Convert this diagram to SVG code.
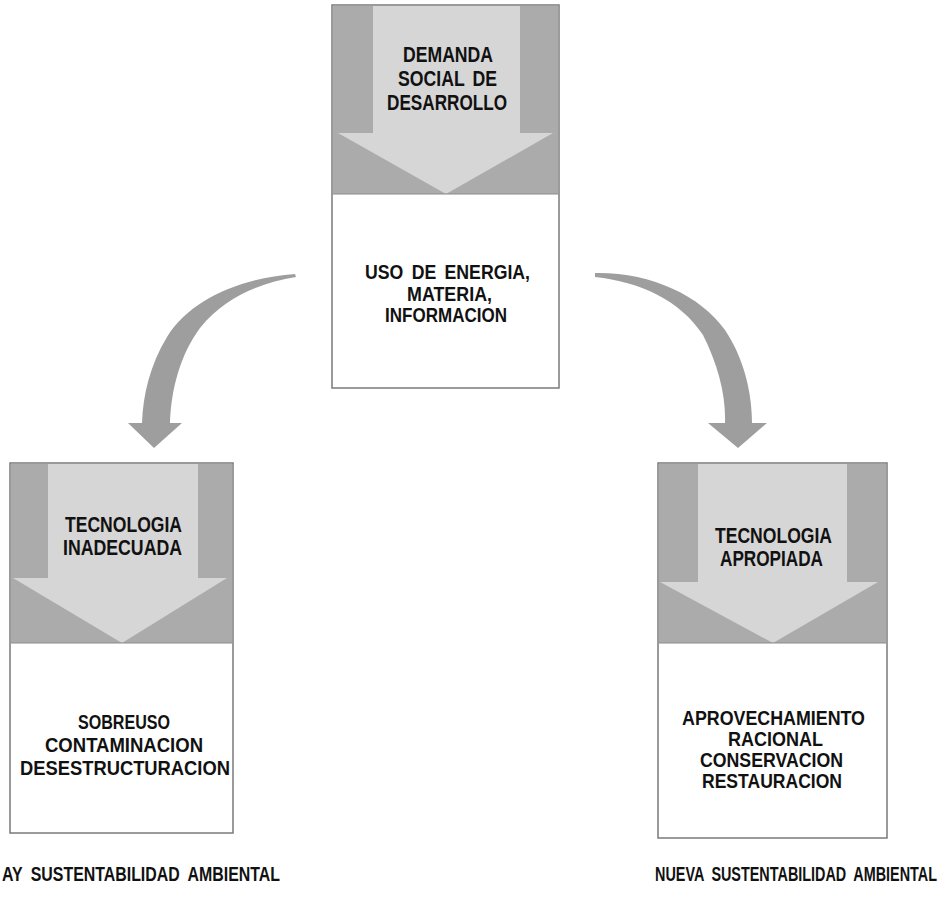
<svg xmlns="http://www.w3.org/2000/svg" width="949" height="900" viewBox="0 0 949 900">
<style>
.bg{fill:#ffffff}
.box{fill:#ffffff;stroke:#7a7a7a;stroke-width:1.5}
.dark{fill:#ababab}
.light{fill:#d6d6d6}
.curve{fill:#9e9e9e}
text{font-family:"Liberation Sans",Arial,sans-serif;font-weight:bold;font-size:22px;fill:#111;text-anchor:middle;word-spacing:4px}
.tight{font-size:20.5px}
.foot{font-size:20px;text-anchor:start;word-spacing:5px}
</style>
<rect class="bg" x="0" y="0" width="949" height="900"/>

<g id="node-demanda">
<rect class="box" x="332" y="5" width="227" height="383"/>
<rect class="dark" x="333" y="6" width="225" height="188"/>
<polygon class="light" points="373,6 520,6 520,133 553,133 446,194 338,133 373,133"/>
<line x1="333" y1="194" x2="558" y2="194" stroke="#8a8a8a" stroke-width="1"/>
<text x="448" y="61.5" textLength="90" lengthAdjust="spacingAndGlyphs">DEMANDA</text>
<text x="447.5" y="85.5" textLength="99" lengthAdjust="spacingAndGlyphs">SOCIAL DE</text>
<text x="447" y="110" textLength="120" lengthAdjust="spacingAndGlyphs">DESARROLLO</text>
<text class="tight" x="447.5" y="279" textLength="165" lengthAdjust="spacingAndGlyphs">USO DE ENERGIA,</text>
<text class="tight" x="449.5" y="301" textLength="85" lengthAdjust="spacingAndGlyphs">MATERIA,</text>
<text class="tight" x="446" y="322" textLength="122" lengthAdjust="spacingAndGlyphs">INFORMACION</text>
</g>

<g id="node-inadecuada">
<rect class="box" x="10" y="463" width="223" height="370"/>
<rect class="dark" x="11" y="464" width="221" height="179"/>
<polygon class="light" points="48,464 198,464 198,578 227,578 122,643 13,578 48,578"/>
<line x1="11" y1="643" x2="232" y2="643" stroke="#8a8a8a" stroke-width="1"/>
<text x="123.5" y="532" textLength="117" lengthAdjust="spacingAndGlyphs">TECNOLOGIA</text>
<text x="122.5" y="555" textLength="119" lengthAdjust="spacingAndGlyphs">INADECUADA</text>
<text class="tight" x="124" y="729" textLength="92" lengthAdjust="spacingAndGlyphs">SOBREUSO</text>
<text class="tight" x="124" y="752" textLength="158" lengthAdjust="spacingAndGlyphs">CONTAMINACION</text>
<text class="tight" x="125" y="775" textLength="210" lengthAdjust="spacingAndGlyphs">DESESTRUCTURACION</text>
</g>

<g id="node-apropiada">
<rect class="box" x="658" y="463" width="229" height="375"/>
<rect class="dark" x="659" y="464" width="227" height="179"/>
<polygon class="light" points="698,464 847,464 847,582 878,582 773,643 660,582 698,582"/>
<line x1="659" y1="643" x2="886" y2="643" stroke="#8a8a8a" stroke-width="1"/>
<text x="773.5" y="542.5" textLength="117" lengthAdjust="spacingAndGlyphs">TECNOLOGIA</text>
<text x="771.5" y="566" textLength="103" lengthAdjust="spacingAndGlyphs">APROPIADA</text>
<text class="tight" x="773.5" y="725" textLength="183" lengthAdjust="spacingAndGlyphs">APROVECHAMIENTO</text>
<text class="tight" x="775.5" y="746" textLength="95" lengthAdjust="spacingAndGlyphs">RACIONAL</text>
<text class="tight" x="771.5" y="767" textLength="143" lengthAdjust="spacingAndGlyphs">CONSERVACION</text>
<text class="tight" x="772" y="788" textLength="140" lengthAdjust="spacingAndGlyphs">RESTAURACION</text>
</g>

<g id="connectors">
<path class="curve" d="M295,274 C240,278 190,300 167,337 C150,365 143,395 142,423 L128,423 L154,448 L182,423 L170,423 C171,390 180,355 200,328 C225,297 260,283 296,277 Z"/>
<path class="curve" d="M595,273 C650,272 700,295 725,330 C745,360 752,395 752,423 L767,423 L738,448 L708,423 L725,423 C726,395 718,365 703,335 C680,300 640,282 595,277 Z"/>
</g>

<g id="labels">
<text class="foot" x="2" y="881" textLength="278" lengthAdjust="spacingAndGlyphs">AY SUSTENTABILIDAD AMBIENTAL</text>
<text class="foot" x="655" y="881" textLength="282" lengthAdjust="spacingAndGlyphs">NUEVA SUSTENTABILIDAD AMBIENTAL</text>
</g>
</svg>
